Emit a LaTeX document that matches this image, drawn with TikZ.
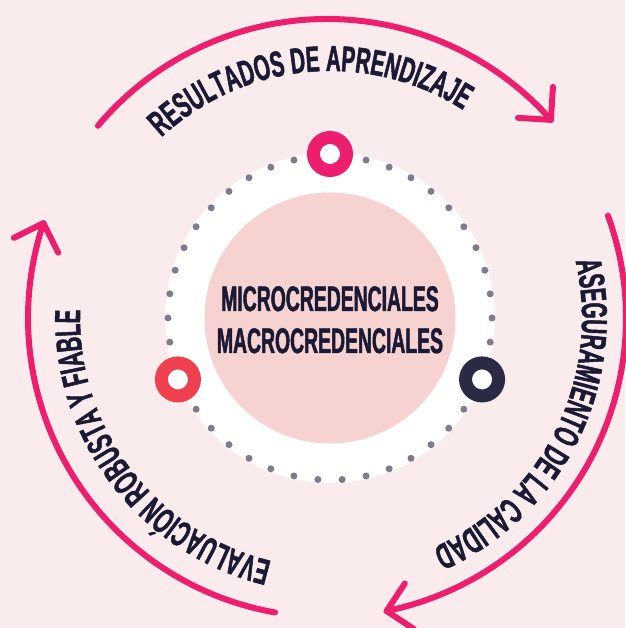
\documentclass[tikz,border=0pt]{standalone}
\usepackage{fontspec}
\usetikzlibrary{decorations.text,calc}
\newfontfamily\arcfont[FakeStretch=0.57,FakeBold=1.4]{Liberation Sans}
\newfontfamily\midfont[FakeStretch=0.546,FakeBold=1.4]{Liberation Sans}
\definecolor{bg}{HTML}{FAEBEC}
\definecolor{innerc}{HTML}{F6D3D1}
\definecolor{mag}{HTML}{ED1E6E}
\definecolor{redring}{HTML}{EF4050}
\definecolor{navy}{HTML}{2A2A45}
\definecolor{txt}{HTML}{1B1A35}
\definecolor{dotc}{HTML}{7E7B8D}
\tikzset{
  arrowline/.style={draw=mag,line width=6pt,line cap=round,line join=round},
  ringnode/.style={circle,minimum size=33pt,inner sep=0pt,line width=13pt,fill=white},
  midtext/.style={text=txt,font=\midfont\bfseries\fontsize{35.5}{36}\selectfont,inner sep=0pt,anchor=base},
  arctext/.style={decorate,decoration={text along path,text align=center,text color=txt}}
}
\begin{document}
\begin{tikzpicture}[x=1pt,y=1pt]
\fill[bg] (-330,-310) rectangle (295,318);
\useasboundingbox (-330,-310) rectangle (295,318);
% circles
\fill[white] (0,0) circle[radius=165];
\fill[innerc] (0,0) circle[radius=125.5];
\foreach \k in {0,...,41} \fill[dotc] ({\k*360/42}:162) circle[radius=3.5];
% rings
\node[ringnode,draw=mag] (rtop) at (90:164) {};
\node[ringnode,draw=redring] (rleft) at (202:164) {};
\node[ringnode,draw=navy] (rright) at (338:164) {};
% centre text
\node[midtext] (micro) at (0,7) {MICROCREDENCIALES};
\node[midtext] (macro) at (0,-35) {MACROCREDENCIALES};
% arrows
\coordinate (ac) at (-3,0);
\draw[arrowline] ($(ac)+(140:299)$) arc[start angle=140,end angle=41.5,radius=299] coordinate (tipA);
\draw[arrowline] ($(tipA)+(86.5:33)$) -- (tipA) -- ($(tipA)+(176.5:33)$);
\draw[arrowline] ($(ac)+(20:299)$) arc[start angle=20,end angle=-78.5,radius=299] coordinate (tipB);
\draw[arrowline] ($(tipB)+(-33.5:33)$) -- (tipB) -- ($(tipB)+(56.5:33)$);
\draw[arrowline] ($(ac)+(260:299)$) arc[start angle=260,end angle=161.5,radius=299] coordinate (tipC);
\draw[arrowline] ($(tipC)+(206.5:33)$) -- (tipC) -- ($(tipC)+(296.5:33)$);
% curved texts
\path[arctext,decoration={text={|\arcfont\bfseries\fontsize{36}{36}\selectfont|RESULTADOS DE APRENDIZAJE}}]
  (155.2:247) arc[start angle=155.2,end angle=35.2,radius=247];
\path[arctext,decoration={text={|\arcfont\bfseries\fontsize{36}{36}\selectfont|ASEGURAMIENTO DE LA CALIDAD}}]
  (33.5:252) arc[start angle=33.5,end angle=-86.5,radius=252];
\path[arctext,decoration={text={|\arcfont\bfseries\fontsize{36}{36}\selectfont|EVALUACIÓN ROBUSTA Y FIABLE}}]
  (277.3:250) arc[start angle=277.3,end angle=157.3,radius=250];
\end{tikzpicture}
\end{document}
